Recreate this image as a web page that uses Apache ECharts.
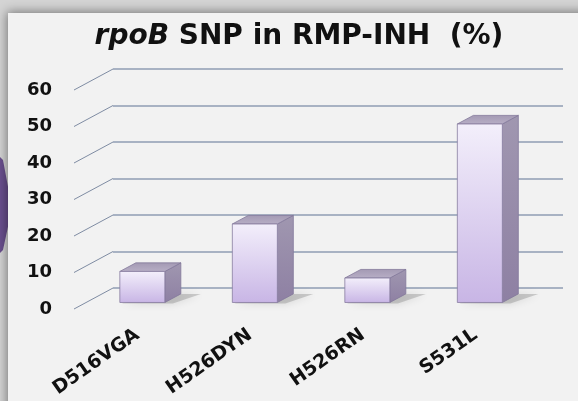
<!DOCTYPE html>
<html>
<head>
<meta charset="utf-8">
<script src="https://cdn.jsdelivr.net/npm/echarts@6/dist/echarts.min.js"></script>
<style>html,body{margin:0;padding:0;background:#f2f2f2;}#c{width:578px;height:401px;}</style>
</head>
<body>
<div id="c"></div>
<script>
// ---- data ----
const categories = ['D516VGA', 'H526DYN', 'H526RN', 'S531L'];
const values = [8.5, 21.5, 6.7, 48.9];
const yTicks = [0, 10, 20, 30, 40, 50, 60];
const titleText = '{i|rpoB} SNP in RMP-INH  (%)';

// ---- styling constants ----
const FONT = 'DejaVu Sans';
const DX = 39, DY = 21;       // depth vector (back wall -> front edge)
const F0 = 0.28, F1 = 0.69;   // bar depth fraction (back face, front face)
const GRID_COLOR = '#8f9cb3';

const chart = echarts.init(document.getElementById('c'), null, {renderer: 'canvas'});

function barItem(params, api) {
  const i = api.value(0), v = api.value(1);
  const top = api.coord([i, v]);
  const base = api.coord([i, 0]);
  const w = api.size([1, 0])[0] * 0.4;
  const fx = -DX * F1, fy = DY * F1, bx = -DX * F0, by = DY * F0;
  const xl = top[0] - w / 2, xr = top[0] + w / 2;
  const frontTop = top[1] + fy, frontBot = base[1] + fy;
  const backTop = top[1] + by, backBot = base[1] + by;
  return {
    type: 'group',
    children: [
      { // floor shadow
        type: 'polygon',
        shape: {points: [[xl + fx + 2, frontBot + 1], [xr + fx + 8, frontBot + 1], [xr + bx + 20, backBot], [xl + bx + 18, backBot]]},
        style: {fill: 'rgba(110,110,110,0.3)', shadowBlur: 8, shadowColor: 'rgba(0,0,0,0.4)'},
        z2: 1
      },
      { // side face
        type: 'polygon',
        shape: {points: [[xr + fx, frontTop], [xr + bx, backTop], [xr + bx, backBot], [xr + fx, frontBot]]},
        style: {
          fill: new echarts.graphic.LinearGradient(0, 0, 0, 1, [
            {offset: 0, color: '#a097b0'}, {offset: 1, color: '#8e80a3'}]),
          stroke: '#83789a', lineWidth: 0.8
        },
        z2: 2
      },
      { // top face
        type: 'polygon',
        shape: {points: [[xl + fx, frontTop], [xl + bx, backTop], [xr + bx, backTop], [xr + fx, frontTop]]},
        style: {
          fill: new echarts.graphic.LinearGradient(0, 1, 0, 0, [
            {offset: 0, color: '#b8afc6'}, {offset: 1, color: '#a399b3'}]),
          stroke: '#83789a', lineWidth: 0.8
        },
        z2: 3
      },
      { // front face
        type: 'rect',
        shape: {x: xl + fx, y: frontTop, width: w, height: frontBot - frontTop},
        style: {
          fill: new echarts.graphic.LinearGradient(0, 0, 0, 1, [
            {offset: 0, color: '#f3effb'}, {offset: 1, color: '#c8b5e5'}]),
          stroke: '#887c9f', lineWidth: 0.8
        },
        z2: 4
      }
    ]
  };
}

function diagItem(params, api) {
  const cs = params.coordSys;
  const y = api.coord([0, api.value(1)])[1];
  return {
    type: 'line',
    shape: {x1: cs.x, y1: y, x2: cs.x - DX, y2: y + DY},
    style: {stroke: '#7f8ca3', lineWidth: 1}
  };
}

const option = {
  backgroundColor: '#f2f2f2',
  animation: false,
  graphic: [
    {type: 'rect', z: -10, shape: {x: 0, y: 0, width: 578, height: 401}, style: {fill: '#d4d4d4'}},
    {type: 'polygon', z: -9, shape: {points: [[0, 157], [3, 160], [9, 192], [11, 207], [9, 222], [3, 250], [0, 253]]},
     style: {fill: '#6a4f8e'}},
    {type: 'rect', z: -8, shape: {x: 8, y: 13, width: 600, height: 420},
     style: {fill: '#f2f2f2', shadowBlur: 10, shadowColor: 'rgba(0,0,0,0.45)', shadowOffsetX: -1, shadowOffsetY: -1}}
  ],
  title: {
    text: titleText,
    left: 294, top: 18, textAlign: 'center',
    textStyle: {
      fontFamily: FONT, fontWeight: 'bold', fontSize: 28, color: '#111',
      rich: {i: {fontFamily: FONT, fontWeight: 'bold', fontStyle: 'italic', fontSize: 28, color: '#111'}}
    }
  },
  grid: [
    {left: 113, right: 15, top: 69, bottom: 113},   // back wall
    {left: 74, right: 54, top: 90, bottom: 92},     // front plane (y labels)
    {left: 81, right: 46, top: 90, bottom: 92}      // x labels
  ],
  xAxis: [
    {type: 'category', gridIndex: 0, data: categories, show: false},
    {type: 'category', gridIndex: 1, data: categories, show: false},
    {type: 'category', gridIndex: 2, data: categories,
     axisLine: {show: false}, axisTick: {show: false}, splitLine: {show: false},
     axisLabel: {rotate: 35, margin: 24, fontFamily: FONT, fontWeight: 'bold', fontSize: 19, color: '#111', interval: 0}}
  ],
  yAxis: [
    {type: 'value', gridIndex: 0, min: 0, max: 60, interval: 10,
     axisLabel: {show: false}, axisLine: {show: false}, axisTick: {show: false},
     splitLine: {show: true, lineStyle: {color: GRID_COLOR, width: 1.5}}},
    {type: 'value', gridIndex: 1, min: 0, max: 60, interval: 10,
     axisLine: {show: false}, axisTick: {show: false}, splitLine: {show: false},
     axisLabel: {margin: 22, fontFamily: FONT, fontWeight: 'bold', fontSize: 18, color: '#111'}},
    {type: 'value', gridIndex: 2, min: 0, max: 60, show: false}
  ],
  series: [
    {type: 'custom', xAxisIndex: 0, yAxisIndex: 0, renderItem: diagItem,
     data: yTicks.map(v => [0, v]), encode: {x: 0, y: 1}, silent: true},
    {type: 'custom', xAxisIndex: 0, yAxisIndex: 0, renderItem: barItem,
     data: values.map((v, i) => [i, v]), encode: {x: 0, y: 1}, z: 5}
  ]
};
chart.setOption(option);
</script>
</body>
</html>
